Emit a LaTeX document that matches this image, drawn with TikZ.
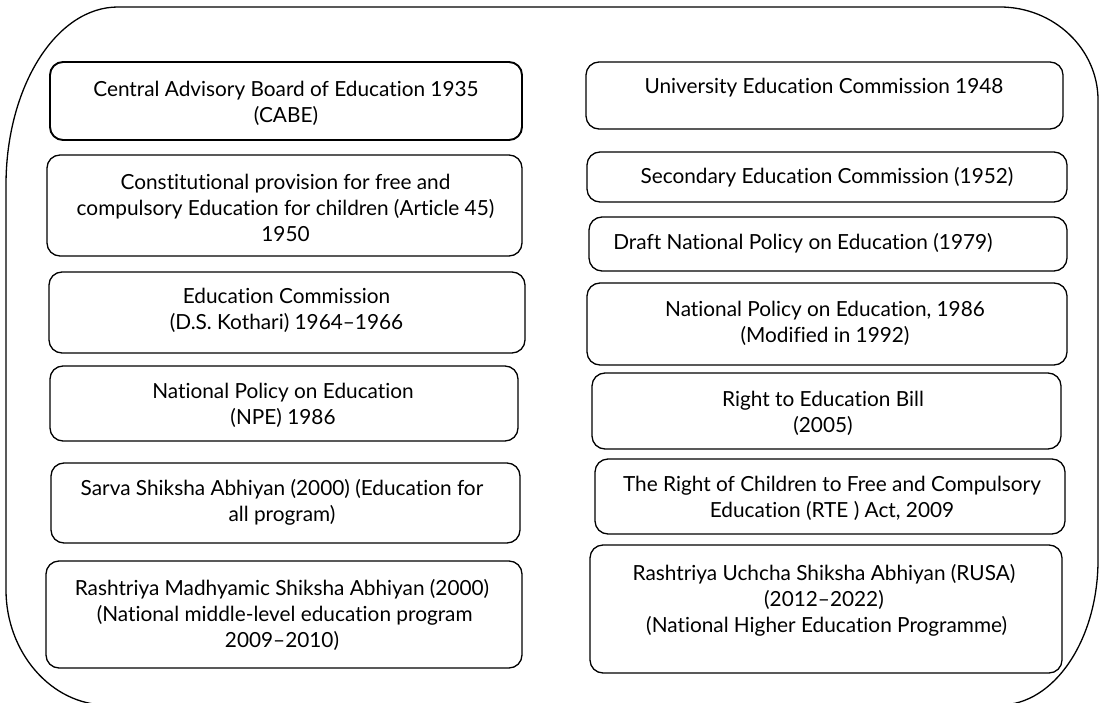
\documentclass[tikz,border=0pt]{standalone}
\usepackage{fontspec}
\setmainfont{Lato}[Ligatures=NoCommon]
\begin{document}
\begin{tikzpicture}[x=1pt,y=-1pt,
  box/.style={draw, rounded corners=13pt, line width=1.3pt, inner sep=0pt},
  txt/.style={align=center, inner sep=0pt, font=\fontsize{20.8}{26}\selectfont},
  frame/.style={line width=1.3pt}]
\useasboundingbox (0,0) rectangle (1099,703);
% outer frame
\draw[frame] (118,7) -- (1000,7)
  .. controls (1054,7) and (1098,49) .. (1098,100)
  -- (1098,560)
  .. controls (1098,640) and (1054,705) .. (1000,705)
  -- (107,705)
  .. controls (51,705) and (6,652) .. (6,590)
  -- (6,185)
  .. controls (6,87) and (56,7) .. (118,7) -- cycle;
% left column boxes
\node[box, line width=1.9pt, minimum width=472pt, minimum height=78pt] (b1) at (286,101) {};
\node[box, minimum width=475pt, minimum height=101pt] (b2) at (284.5,205.5) {};
\node[box, minimum width=476pt, minimum height=81pt] (b3) at (287,312.5) {};
\node[box, minimum width=468pt, minimum height=75pt] (b4) at (284,403.5) {};
\node[box, minimum width=469pt, minimum height=80pt] (b5) at (285.5,503) {};
\node[box, minimum width=476pt, minimum height=107pt] (b6) at (284,614.5) {};
% right column boxes
\node[box, minimum width=477pt, minimum height=67pt] (r1) at (824.5,95.5) {};
\node[box, minimum width=480pt, minimum height=50pt] (r2) at (827,177) {};
\node[box, minimum width=478pt, minimum height=54pt] (r3) at (828,244) {};
\node[box, minimum width=480pt, minimum height=82pt] (r4) at (827,324) {};
\node[box, minimum width=469pt, minimum height=76pt] (r5) at (826.5,411) {};
\node[box, minimum width=470pt, minimum height=75pt] (r6) at (830,496.5) {};
\node[box, minimum width=472pt, minimum height=128pt] (r7) at (826,609) {};
% left column texts
\node[txt] (t1) at (286,103.5) {Central Advisory Board of Education 1935\\(CABE)};
\node[txt] (t2) at (285.5,208) {Constitutional provision for free and\\compulsory Education for children (Article 45)\\1950};
\node[txt] (t3) at (286.5,310.5) {Education Commission\\(D.S. Kothari) 1964–1966};
\node[txt] (t4) at (283,405.5) {National Policy on Education\\(NPE) 1986};
\node[txt] (t5) at (282,502) {Sarva Shiksha Abhiyan (2000) (Education for\\all program)};
\node[txt] (t6) at (282,615) {Rashtriya Madhyamic Shiksha Abhiyan (2000)\\\ (National middle-level education program\\2009–2010)};
% right column texts
\node[txt] (s1) at (824,88) {University Education Commission 1948};
\node[txt] (s2) at (827,177) {Secondary Education Commission (1952)};
\node[txt] (s3) at (803,243) {Draft National Policy on Education (1979)};
\node[txt] (s4) at (825,323.5) {National Policy on Education, 1986\\(Modified in 1992)};
\node[txt] (s5) at (823,413) {Right to Education Bill\\(2005)};
\node[txt] (s6) at (832,498) {The Right of Children to Free and Compulsory\\Education (RTE ) Act, 2009};
\node[txt] (s7) at (824,600) {Rashtriya Uchcha Shiksha Abhiyan (RUSA)\\(2012–2022)\\\ (National Higher Education Programme)};
\end{tikzpicture}
\end{document}
